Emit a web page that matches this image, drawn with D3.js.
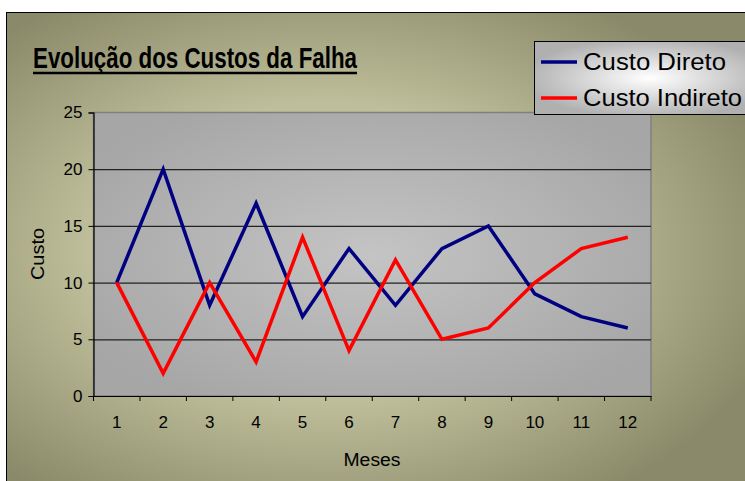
<!DOCTYPE html>
<html>
<head>
<meta charset="utf-8">
<script src="https://cdn.jsdelivr.net/npm/d3@7"></script>
<style>
  body { margin: 0; background: #fff; }
  svg { display: block; font-family: "Liberation Sans", Arial, sans-serif; }
</style>
</head>
<body>
<div id="chart"></div>
<script>
const months = ['1', '2', '3', '4', '5', '6', '7', '8', '9', '10', '11', '12'];
const custoDireto = [10, 20, 8, 17, 7, 13, 8, 13, 15, 9, 7, 6];
const custoIndireto = [10, 2, 10, 3, 14, 4, 12, 5, 6, 10, 13, 14];
const yTicks = [0, 5, 10, 15, 20, 25];
const seriesNames = ['Custo Direto', 'Custo Indireto'];
const seriesColors = ['#000080', '#ff0000'];

const width = 745;
const height = 481;

const svg = d3.select('#chart')
    .append('svg')
    .attr('width', width)
    .attr('height', height);

const defs = svg.append('defs');

// light in the middle, darker toward every edge
const bgGrad = defs.append('radialGradient')
    .attr('id', 'bg')
    .attr('cx', '0.42').attr('cy', '0.5').attr('r', '0.62');
bgGrad.append('stop').attr('offset', '0%').attr('stop-color', '#c6c6a2');
bgGrad.append('stop').attr('offset', '50%').attr('stop-color', '#bebe9a');
bgGrad.append('stop').attr('offset', '100%').attr('stop-color', '#8a8a6a');

const plotGrad = defs.append('radialGradient')
    .attr('id', 'plotbg')
    .attr('cx', '0.5').attr('cy', '0.5').attr('r', '0.6');
plotGrad.append('stop').attr('offset', '0%').attr('stop-color', '#c4c4c4');
plotGrad.append('stop').attr('offset', '100%').attr('stop-color', '#a6a6a6');

const legGrad = defs.append('radialGradient')
    .attr('id', 'legbg')
    .attr('cx', '0.5').attr('cy', '0.5').attr('r', '0.55');
legGrad.append('stop').attr('offset', '0%').attr('stop-color', '#ffffff');
legGrad.append('stop').attr('offset', '100%').attr('stop-color', '#b0b0b0');

// chart area
svg.append('rect')
    .attr('x', 6.5).attr('y', 12.5)
    .attr('width', 760).attr('height', 480)
    .attr('fill', 'url(#bg)')
    .attr('stroke', '#000')
    .attr('stroke-width', 1);

const area = { left: 93.5, right: 651, top: 112.5, bottom: 396 };

const xScale = d3.scaleBand()
    .domain(months)
    .range([area.left, area.right])
    .padding(0);

const yScale = d3.scaleLinear()
    .domain([0, 25])
    .range([area.bottom, area.top]);

// plot area
svg.append('rect')
    .attr('x', area.left).attr('y', area.top)
    .attr('width', area.right - area.left)
    .attr('height', area.bottom - area.top)
    .attr('fill', 'url(#plotbg)')
    .attr('stroke', '#808080')
    .attr('stroke-width', 1.5);

// gridlines
svg.append('g')
    .attr('transform', `translate(${area.left}, 0)`)
    .call(d3.axisLeft(yScale).tickValues(yTicks.slice(1, -1)).tickFormat('').tickSize(-(area.right - area.left)))
    .call(g => g.select('.domain').remove())
    .call(g => g.selectAll('line').attr('stroke', '#222').attr('stroke-width', 1.2));

// y axis
svg.append('g')
    .attr('transform', `translate(${area.left}, 0)`)
    .call(d3.axisLeft(yScale).tickValues(yTicks).tickSize(5).tickPadding(6))
    .call(g => g.select('.domain').attr('stroke', '#000').attr('stroke-width', 1.2))
    .call(g => g.selectAll('line').attr('stroke', '#000'))
    .call(g => g.selectAll('text').attr('font-size', 17).attr('fill', '#000').attr('font-family', '"Liberation Sans", Arial, sans-serif'));

// x axis
const xAxis = svg.append('g')
    .attr('transform', `translate(0, ${area.bottom})`)
    .call(d3.axisBottom(xScale).tickSize(0).tickPadding(20))
    .call(g => g.select('.domain').attr('stroke', '#000').attr('stroke-width', 1.2))
    .call(g => g.selectAll('text').attr('font-size', 17).attr('fill', '#000').attr('font-family', '"Liberation Sans", Arial, sans-serif'));

// x tick marks at category boundaries
const boundaries = months.map(m => xScale(m)).concat([xScale.range()[1]]);
xAxis.selectAll('.bound')
    .data(boundaries)
    .join('line')
    .attr('class', 'bound')
    .attr('x1', d => d).attr('x2', d => d)
    .attr('y1', 0).attr('y2', 5)
    .attr('stroke', '#000');

// axis titles
svg.append('text')
    .attr('transform', `translate(44, 254) rotate(-90)`)
    .attr('text-anchor', 'middle')
    .attr('font-size', 18)
    .attr('textLength', 52)
    .attr('lengthAdjust', 'spacingAndGlyphs')
    .text('Custo');

svg.append('text')
    .attr('x', 372).attr('y', 466)
    .attr('text-anchor', 'middle')
    .attr('font-size', 18)
    .attr('textLength', 57)
    .attr('lengthAdjust', 'spacingAndGlyphs')
    .text('Meses');

// lines
const line = d3.line()
    .x((d, i) => xScale(months[i]) + xScale.bandwidth() / 2)
    .y(d => yScale(d));

[custoDireto, custoIndireto].forEach((values, i) => {
    svg.append('path')
        .datum(values)
        .attr('d', line)
        .attr('fill', 'none')
        .attr('stroke', seriesColors[i])
        .attr('stroke-width', 3.5)
        .attr('stroke-linejoin', 'miter');
});

// title
svg.append('text')
    .attr('x', 33).attr('y', 68)
    .attr('font-family', '"Liberation Sans Narrow", "Liberation Sans", Arial, sans-serif')
    .attr('font-weight', 'bold')
    .attr('font-size', 30)
    .attr('textLength', 324)
    .attr('lengthAdjust', 'spacingAndGlyphs')
    .text('Evolução dos Custos da Falha');

svg.append('line')
    .attr('x1', 33).attr('x2', 357)
    .attr('y1', 73).attr('y2', 73)
    .attr('stroke', '#000')
    .attr('stroke-width', 2.5);

// legend
const legend = svg.append('g');
legend.append('rect')
    .attr('x', 534.5).attr('y', 41.5)
    .attr('width', 230).attr('height', 73)
    .attr('fill', 'url(#legbg)')
    .attr('stroke', '#000')
    .attr('stroke-width', 1);

const legendItems = legend.selectAll('.item')
    .data(seriesNames)
    .join('g')
    .attr('class', 'item')
    .attr('transform', (d, i) => `translate(0, ${62 + i * 36})`);

legendItems.append('line')
    .attr('x1', 541).attr('x2', 577)
    .attr('stroke', (d, i) => seriesColors[i])
    .attr('stroke-width', 3.5);

legendItems.append('text')
    .attr('x', 583).attr('y', 8)
    .attr('font-family', '"Liberation Sans Narrow", "Liberation Sans", Arial, sans-serif')
    .attr('font-size', 24)
    .attr('textLength', (d, i) => i === 0 ? 143 : 159)
    .attr('lengthAdjust', 'spacingAndGlyphs')
    .text(d => d);
</script>
</body>
</html>
